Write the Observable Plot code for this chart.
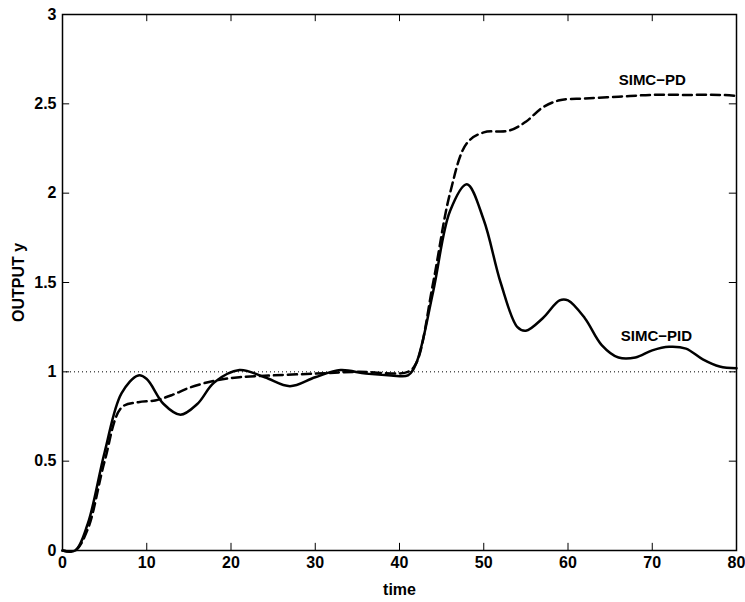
<!DOCTYPE html>
<html><head>
<script src="https://cdn.jsdelivr.net/npm/d3@7"></script>
<script src="https://cdn.jsdelivr.net/npm/@observablehq/plot@0.6"></script>
<style>body{margin:0;background:#fff}</style>
</head><body><div id="chart"></div>
<script>
const pidT = [0,1.5,3,5,7,9,10,12,14,16,18,21,24,27,30,33,36,39,41,42,44,46,48,50,52,54,55,57,59,60,62,64,66,68,70,72,74,76,78,80];
const pidY = [0,0,0.15,0.55,0.88,0.98,0.96,0.82,0.76,0.82,0.94,1.01,0.97,0.92,0.97,1.01,0.99,0.98,0.98,1.05,1.45,1.9,2.05,1.85,1.5,1.25,1.23,1.3,1.4,1.4,1.3,1.15,1.08,1.08,1.12,1.14,1.13,1.07,1.03,1.02];
const pdT = [0,1.5,3,5,7,9,11,13,15,18,21,25,30,35,41,42,44,46,48,50,53,55,57,59,62,66,70,74,78,80];
const pdY = [0,0,0.12,0.5,0.8,0.83,0.84,0.87,0.91,0.95,0.97,0.98,0.99,1.0,1.0,1.05,1.5,2.0,2.28,2.34,2.35,2.4,2.48,2.52,2.53,2.54,2.55,2.55,2.55,2.545];
const xTicks = d3.range(0,81,10);
const yTicks = [0,0.5,1,1.5,2,2.5,3];
const pid = pidT.map((t,i)=>({t, y: pidY[i]}));
const pd = pdT.map((t,i)=>({t, y: pdY[i]}));
const labels = [{t:70, y:2.63, text:"SIMC\u2212PD"}, {t:70.5, y:1.2, text:"SIMC\u2212PID"}];

const plot = Plot.plot({
  width: 745, height: 602,
  marginLeft: 62, marginRight: 9, marginTop: 14, marginBottom: 52,
  style: {fontFamily: "Liberation Sans, Arial, sans-serif", fontSize: "16px", fontWeight: "bold", color: "#000"},
  x: {domain: [0,80]},
  y: {domain: [0,3]},
  marks: [
    Plot.axisX(xTicks, {tickSize: 0, tickPadding: 6, label: "time", labelAnchor: "center", labelArrow: "none", labelOffset: 44, fontSize: 16}),
    Plot.axisY(yTicks, {tickSize: 0, tickPadding: 6, tickFormat: d => String(d), label: "OUTPUT y", labelAnchor: "center", labelArrow: "none", labelOffset: 50, fontSize: 16}),
    Plot.ruleX(xTicks, {y1: 0, y2: 0.04, stroke: "#000"}),
    Plot.ruleX(xTicks, {y1: 3, y2: 2.96, stroke: "#000"}),
    Plot.ruleY(yTicks, {x1: 0, x2: 0.85, stroke: "#000"}),
    Plot.ruleY(yTicks, {x1: 80, x2: 79.15, stroke: "#000"}),
    Plot.ruleY([1], {stroke: "#000", strokeWidth: 1, strokeDasharray: "1,3"}),
    Plot.line(pd, {x: "t", y: "y", curve: "catmull-rom", stroke: "#000", strokeWidth: 2.5, strokeDasharray: "9,5"}),
    Plot.line(pid, {x: "t", y: "y", curve: "catmull-rom", stroke: "#000", strokeWidth: 2.5}),
    Plot.text(labels, {x: "t", y: "y", text: "text", fontSize: 15, fontWeight: "bold", fill: "#000"}),
    Plot.frame({stroke: "#000", strokeWidth: 1.5})
  ]
});
document.getElementById("chart").append(plot);
</script>
</body></html>
